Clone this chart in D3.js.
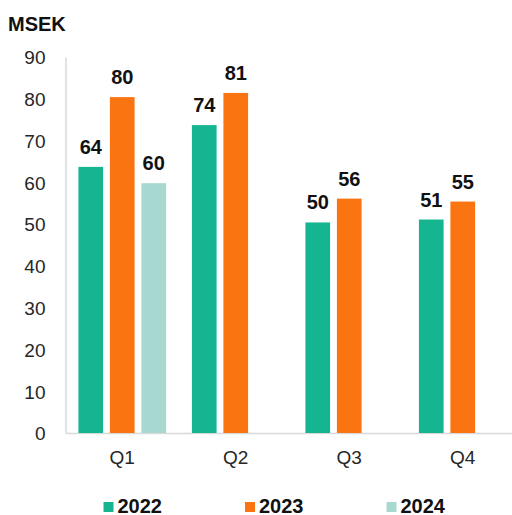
<!DOCTYPE html>
<meta charset="utf-8">
<style>
	body { margin: 0; background: #fff; }
	svg { display: block; font-family: "Liberation Sans", Arial, Helvetica, sans-serif; }
	.axis path { stroke: #d9d9d9; stroke-width: 1.5; }
	.axis text { fill: #262626; font-size: 19px; }
	.val { font-weight: bold; font-size: 20px; fill: #111; text-anchor: middle; }
	.legend text { font-weight: bold; font-size: 20px; fill: #111; }
</style>
<body>
<svg></svg>
</body>
<script src="https://cdn.jsdelivr.net/npm/d3@7"></script>
<script>
	// data
	var quarters = ["Q1", "Q2", "Q3", "Q4"];
	var years = ["2022", "2023", "2024"];
	var v2022 = [63.7, 73.7, 50.4, 51.1];
	var v2023 = [80.4, 81.4, 56.1, 55.4];
	var v2024 = [59.8, null, null, null];
	var yTicks = [0, 10, 20, 30, 40, 50, 60, 70, 80, 90];
	var colors = ["#16b592", "#fa7412", "#a8d9d1"];

	var series = [v2022, v2023, v2024];

	var canvas = d3.select("svg")
		.attr("width", 512)
		.attr("height", 515);

	var x0 = d3.scaleBand().domain(quarters).range([65.5, 519.5]).padding(0);
	var x1 = d3.scaleBand().domain(years).range([0, x0.bandwidth()])
		.paddingInner(0.216).paddingOuter(0.41);
	var y = d3.scaleLinear().domain([0, 90]).range([433, 57]);
	var color = d3.scaleOrdinal().domain(years).range(colors);

	// y axis
	var yAxis = canvas.append("g")
		.attr("class", "axis")
		.attr("transform", "translate(65.5,0)")
		.call(d3.axisLeft(y).tickValues(yTicks).tickSize(0).tickPadding(20));
	yAxis.selectAll("text").attr("dy", "0.36em");

	// x axis
	var xAxis = canvas.append("g")
		.attr("class", "axis")
		.attr("transform", "translate(0,433)")
		.call(d3.axisBottom(x0).tickSize(0).tickPadding(18));

	// flatten into bars
	var bars = [];
	quarters.forEach(function(q, i) {
		years.forEach(function(yr, j) {
			if (series[j][i] != null) bars.push({ q: q, year: yr, v: series[j][i] });
		});
	});

	var groups = canvas.append("g");
	groups.selectAll("rect")
		.data(bars)
		.enter()
		.append("rect")
		.attr("x", function(d) { return x0(d.q) + x1(d.year); })
		.attr("y", function(d) { return y(d.v); })
		.attr("width", x1.bandwidth())
		.attr("height", function(d) { return y(0) - y(d.v); })
		.style("fill", function(d) { return color(d.year); });

	groups.selectAll("text.val")
		.data(bars)
		.enter()
		.append("text")
		.attr("class", "val")
		.attr("x", function(d) { return x0(d.q) + x1(d.year) + x1.bandwidth() / 2; })
		.attr("y", function(d) { return y(d.v) - 13; })
		.text(function(d) { return Math.round(d.v); });

	// unit label
	canvas.append("text")
		.attr("x", 8)
		.attr("y", 31)
		.style("font-weight", "bold")
		.style("font-size", "20px")
		.style("fill", "#111")
		.text("MSEK");

	// legend
	var legend = canvas.append("g").attr("class", "legend")
		.selectAll("g")
		.data(years)
		.enter()
		.append("g")
		.attr("transform", function(d, i) { return "translate(" + (103.5 + i * 141.5) + ",502)"; });
	legend.append("rect")
		.attr("width", 10)
		.attr("height", 10)
		.style("fill", function(d) { return color(d); });
	legend.append("text")
		.attr("x", 14)
		.attr("y", 10.5)
		.text(function(d) { return d; });
</script>
